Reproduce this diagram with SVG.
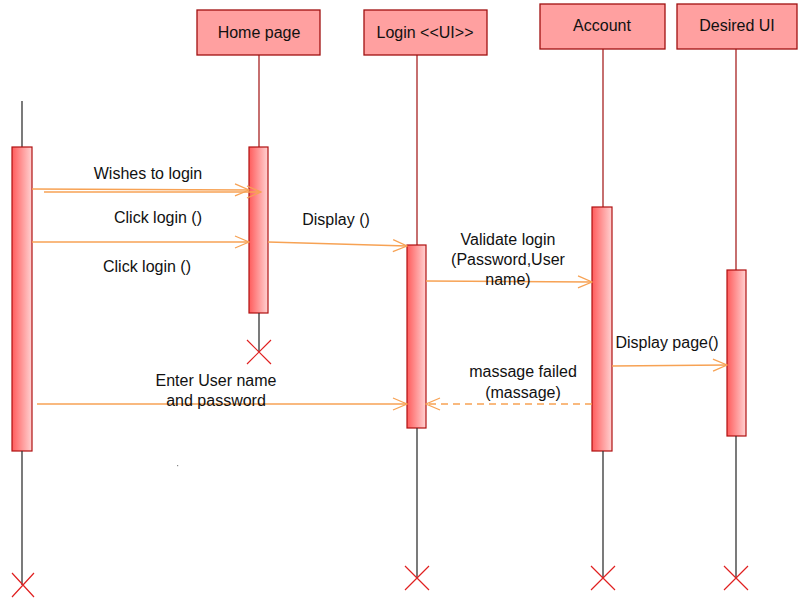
<svg xmlns="http://www.w3.org/2000/svg" width="798" height="598" viewBox="0 0 798 598">
<defs>
<linearGradient id="act" x1="0" y1="0" x2="1" y2="0">
<stop offset="0" stop-color="#ff5c5c"/>
<stop offset="1" stop-color="#ffd2d2"/>
</linearGradient>
<marker id="open" markerWidth="16" markerHeight="14" refX="15" refY="7" orient="auto" markerUnits="userSpaceOnUse">
<path d="M1,1 L15,7 L1,13" fill="none" stroke="#f7a254" stroke-width="1.3"/>
</marker>
<style>
.head{fill:#ffa0a0;stroke:#a01010;stroke-width:1.3}
.act{fill:url(#act);stroke:#b01010;stroke-width:1.2}
.ll{stroke:#a01010;stroke-width:1.2;fill:none}
.llb{stroke:#333;stroke-width:1.3;fill:none}
.x{stroke:#e02020;stroke-width:1.2;fill:none}
.msg{stroke:#f7a254;stroke-width:1.3;fill:none}
.dash{stroke-dasharray:7 5}
text{font-family:"Liberation Sans",Arial,sans-serif;font-size:16px;fill:#111;text-anchor:middle}
</style>
</defs>
<g id="actor">
<line class="llb" x1="22" y1="101" x2="22" y2="147"/>
<rect class="act" x="12" y="147" width="20" height="304"/>
<line class="llb" x1="22" y1="451" x2="22" y2="585"/>
<path class="x" d="M12,573 L34,597 M34,573 L12,597"/>
</g>
<g id="home">
<rect class="head" x="197" y="10" width="123" height="45"/>
<text x="259" y="38">Home page</text>
<line class="ll" x1="259" y1="55" x2="259" y2="147"/>
<rect class="act" x="249" y="147" width="19" height="166"/>
<line class="llb" x1="259" y1="313" x2="259" y2="352"/>
<path class="x" d="M247,340 L271,364 M271,340 L247,364"/>
</g>
<g id="login">
<rect class="head" x="364" y="10" width="123" height="45"/>
<text x="425" y="38">Login &lt;&lt;UI&gt;&gt;</text>
<line class="ll" x1="417" y1="55" x2="417" y2="245"/>
<rect class="act" x="407" y="245" width="19" height="183"/>
<line class="llb" x1="417" y1="428" x2="417" y2="578"/>
<path class="x" d="M405,566 L429,590 M429,566 L405,590"/>
</g>
<g id="account">
<rect class="head" x="540" y="4" width="125" height="45"/>
<text x="602" y="31">Account</text>
<line class="ll" x1="603" y1="49" x2="603" y2="207"/>
<rect class="act" x="592" y="207" width="20" height="244"/>
<line class="llb" x1="603" y1="451" x2="603" y2="578"/>
<path class="x" d="M591,566 L615,590 M615,566 L591,590"/>
</g>
<g id="desired">
<rect class="head" x="677" y="4" width="120" height="45"/>
<text x="737" y="31">Desired UI</text>
<line class="ll" x1="736" y1="49" x2="736" y2="270"/>
<rect class="act" x="727" y="270" width="19" height="166"/>
<line class="llb" x1="736" y1="436" x2="736" y2="578"/>
<path class="x" d="M724,566 L748,590 M748,566 L724,590"/>
</g>
<g id="connectors">
<line class="msg" x1="32" y1="189" x2="249" y2="190" marker-end="url(#open)"/>
<line class="msg" x1="44" y1="192" x2="261" y2="192" marker-end="url(#open)"/>
<line class="msg" x1="32" y1="242" x2="249" y2="242" marker-end="url(#open)"/>
<line class="msg" x1="268" y1="242" x2="407" y2="246" marker-end="url(#open)"/>
<line class="msg" x1="426" y1="281" x2="592" y2="282" marker-end="url(#open)"/>
<line class="msg" x1="612" y1="366" x2="727" y2="365" marker-end="url(#open)"/>
<line class="msg" x1="37" y1="404" x2="407" y2="404" marker-end="url(#open)"/>
<line class="msg dash" x1="592" y1="404" x2="426" y2="404" marker-end="url(#open)"/>
</g>
<g id="labels">
<text x="148" y="179">Wishes to login</text>
<text x="158" y="223">Click login ()</text>
<text x="147" y="272">Click login ()</text>
<text x="336" y="225">Display ()</text>
<text x="508" y="245">Validate login</text>
<text x="508" y="265">(Password,User</text>
<text x="508" y="285">name)</text>
<text x="667" y="348">Display page()</text>
<text x="216" y="386">Enter User name</text>
<text x="216" y="406">and password</text>
<text x="523" y="377">massage failed</text>
<text x="523" y="398">(massage)</text>
</g>
<rect x="177" y="465" width="1.2" height="1.2" fill="#888"/>
</svg>
